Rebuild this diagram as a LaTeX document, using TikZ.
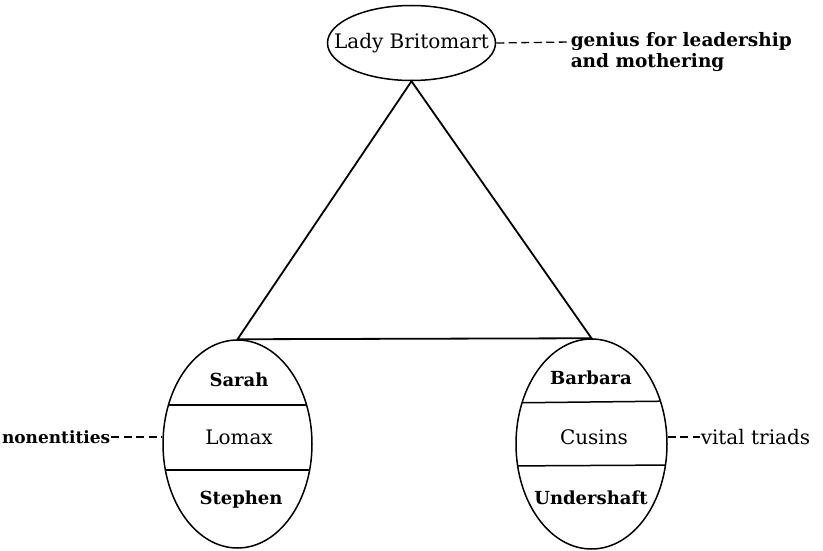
\documentclass[tikz,border=0pt]{standalone}
\usepackage{fontspec}
\setmainfont{DejaVu Serif}
\usetikzlibrary{shapes.geometric}
\begin{document}
\begin{tikzpicture}[x=1pt,y=-1pt,line width=1.5pt,
  oval/.style={draw,ellipse,inner sep=0pt},
  lbl/.style={inner sep=0pt,font=\fontsize{20}{23}\selectfont},
  blbl/.style={inner sep=0pt,font=\fontsize{18}{21}\selectfont\bfseries},
  glbl/.style={inner sep=0pt,font=\fontsize{18.5}{21}\selectfont\bfseries},
  dashline/.style={line width=1.3pt,dash pattern=on 8pt off 4.5pt}]
\useasboundingbox (0,0) rectangle (823,551);
\node[oval,minimum width=168pt,minimum height=75pt] (lb) at (411.5,43) {};
\node[lbl] (lbt) at (lb.center) {Lady Britomart};
\node[oval,minimum width=149pt,minimum height=208pt] (le) at (237.5,444) {};
\node[oval,minimum width=151pt,minimum height=210pt] (re) at (591.5,444) {};
\begin{scope}
  \clip (237.5,444) ellipse [x radius=74.5pt,y radius=104pt];
  \draw (150,405) -- (330,405);
  \draw (150,470) -- (330,470);
\end{scope}
\begin{scope}
  \clip (591.5,444) ellipse [x radius=75.5pt,y radius=105pt];
  \draw (500,403) -- (680,401);
  \draw (500,466) -- (680,465);
\end{scope}
\node[blbl] (sarah) at (239,380) {Sarah};
\node[lbl] (lomax) at (239,437) {Lomax};
\node[blbl] (stephen) at (241,500) {Stephen};
\node[blbl] (barbara) at (591,378) {Barbara};
\node[lbl] (cusins) at (594,437) {Cusins};
\node[blbl] (under) at (591,498) {Undershaft};
\draw[line width=1.8pt] (lb.south) -- (le.north) -- (re.north) -- cycle;
\node[glbl,anchor=west] (g1) at (570,42) {genius for leadership};
\node[glbl,anchor=west] (g2) at (570,63) {and mothering};
\draw[dashline] (lb.east) -- (g1.west);
\node[blbl,anchor=east,font=\fontsize{17}{20}\selectfont\bfseries] (ne) at (111,437) {nonentities};
\draw[dashline] (ne.east) -- (le.west |- ne.east);
\node[lbl,anchor=west] (vt) at (700,437) {vital triads};
\draw[dashline] (re.east |- vt.west) -- (vt.west);
\end{tikzpicture}
\end{document}
